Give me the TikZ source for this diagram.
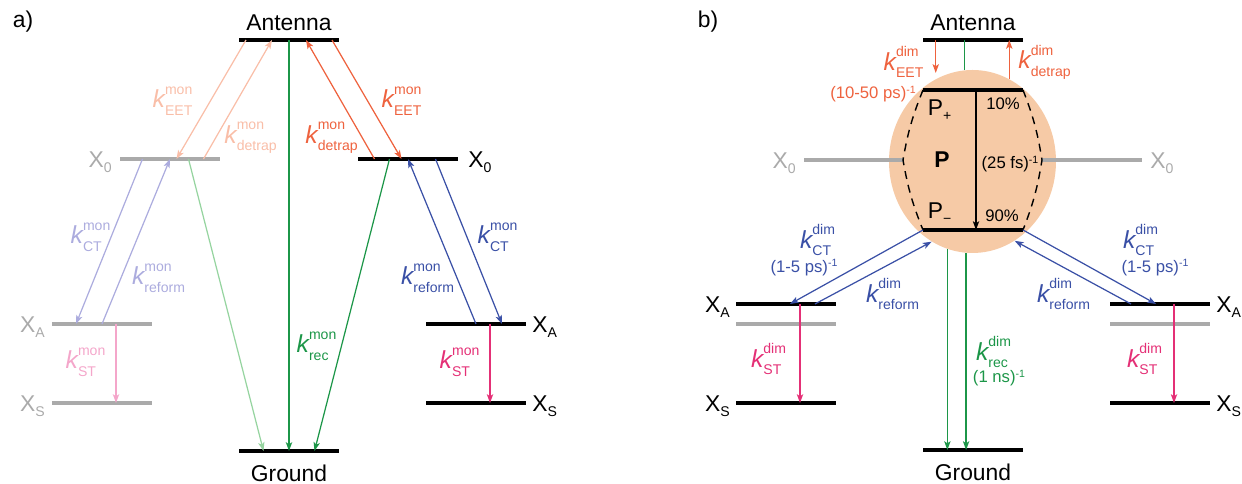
\documentclass[tikz,border=0pt]{standalone}
\usepackage{amsmath}
\usepackage{fontspec}
\setmainfont{Liberation Sans}
\usepackage{xcolor}
\usepackage{tikz}
\usetikzlibrary{arrows.meta,positioning,calc,shapes.geometric}
\definecolor{eetred}{RGB}{238,98,62}
\definecolor{eetpale}{RGB}{249,190,168}
\definecolor{ctblue}{RGB}{58,80,166}
\definecolor{ctpale}{RGB}{172,172,222}
\definecolor{recgreen}{RGB}{28,150,72}
\definecolor{recpale}{RGB}{150,212,160}
\definecolor{stpink}{RGB}{228,48,118}
\definecolor{stpale}{RGB}{244,166,202}
\definecolor{lvlgray}{RGB}{170,170,170}
\definecolor{pcore}{RGB}{246,202,166}
\newcommand{\ratefont}{\fontsize{8}{9}\selectfont}
\newcommand{\krate}[2]{$\textit{k}^{\raisebox{1.5pt}{\ratefont #1}}_{\raisebox{-0.6pt}{\ratefont #2}}$}
\newcommand{\state}[2]{#1$_{\raisebox{-1pt}{\ratefont #2}}$}
\newcommand{\inv}{\raisebox{3.2pt}{\fontsize{6}{7}\selectfont -1}}

\begin{document}
\begin{tikzpicture}[>={Stealth[length=5pt,width=3.6pt,inset=1.2pt]},
  lvl/.style={line width=1.8pt},
  lvlg/.style={lvl,draw=lvlgray},
  rt/.style={->,line width=0.7pt},
  lab/.style={font=\fontsize{13}{15}\selectfont,inner sep=0pt},
  kl/.style={font=\fontsize{14}{16}\selectfont,inner sep=0pt},
  note/.style={font=\fontsize{9.5}{11}\selectfont,inner sep=0pt}]
\useasboundingbox (0,0) rectangle (24.84,9.68);

% ---------- a) monomer ----------
\coordinate (antA) at (5.78,8.88);
\coordinate (gndA) at (5.78,0.66);
\coordinate (xoL) at (3.40,6.50);
\coordinate (xoR) at (8.16,6.50);
\coordinate (xaL) at (2.04,3.20);
\coordinate (xsL) at (2.04,1.62);
\coordinate (xaR) at (9.52,3.20);
\coordinate (xsR) at (9.52,1.62);
\foreach \lv in {antA,gndA,xoR,xaR,xsR}
  \draw[lvl] ([xshift=-1cm]\lv) -- ([xshift=1cm]\lv);
\foreach \lv in {xoL,xaL,xsL}
  \draw[lvlg] ([xshift=-1cm]\lv) -- ([xshift=1cm]\lv);

\node[lab] (tagA) at (0.46,9.24) {a)};
\node[lab] (antAtxt) at ([yshift=0.34cm]antA) {Antenna};
\node[lab] (gndAtxt) at ([yshift=-0.44cm]gndA) {Ground};
\node[lab,text=lvlgray,anchor=base east] (xoLtxt) at ($(xoL)+(-1.14,-0.165)$) {\state{X}{0}};
\node[lab,anchor=base west] (xoRtxt) at ($(xoR)+(1.20,-0.165)$) {\state{X}{0}};
\node[lab,text=lvlgray,anchor=base east] (xaLtxt) at ($(xaL)+(-1.12,-0.165)$) {\state{X}{A}};
\node[lab,text=lvlgray,anchor=base east] (xsLtxt) at ($(xsL)+(-1.12,-0.165)$) {\state{X}{S}};
\node[lab,anchor=base west] (xaRtxt) at ($(xaR)+(1.12,-0.165)$) {\state{X}{A}};
\node[lab,anchor=base west] (xsRtxt) at ($(xsR)+(1.12,-0.165)$) {\state{X}{S}};

% energy transfer / detrapping
\draw[rt,eetred] ([xshift=0.86cm]antA) -- ([xshift=-0.13cm]xoR);
\draw[rt,eetred] ([xshift=-0.67cm]xoR) -- ([xshift=0.34cm]antA);
\draw[rt,eetpale] ([xshift=-0.86cm]antA) -- ([xshift=0.13cm]xoL);
\draw[rt,eetpale] ([xshift=0.67cm]xoL) -- ([xshift=-0.34cm]antA);
% recombination
\draw[rt,recgreen] (antA) -- (gndA);
\draw[rt,recpale] ([xshift=0.37cm]xoL) -- ([xshift=-0.51cm]gndA);
\draw[rt,recgreen] ([xshift=-0.37cm]xoR) -- ([xshift=0.51cm]gndA);
% charge transfer / reformation
\draw[rt,ctblue] ([xshift=0.55cm]xoR) -- ([xshift=0.52cm]xaR);
\draw[rt,ctblue] (xaR) -- (xoR);
\draw[rt,ctpale] ([xshift=-0.55cm]xoL) -- ([xshift=-0.52cm]xaL);
\draw[rt,ctpale] (xaL) -- (xoL);
% stabilisation
\draw[rt,stpink] ([xshift=0.28cm]xaR) -- ([xshift=0.28cm]xsR);
\draw[rt,stpale] ([xshift=0.28cm]xaL) -- ([xshift=0.28cm]xsL);

\node[kl,text=eetred] (kEETa) at (8.04,7.66) {\krate{mon}{EET}};
\node[kl,text=eetred] (kDETa) at (6.64,6.92) {\krate{mon}{detrap}};
\node[kl,text=eetpale] (kEETap) at (3.46,7.66) {\krate{mon}{EET}};
\node[kl,text=eetpale] (kDETap) at (5.02,6.92) {\krate{mon}{detrap}};
\node[kl,text=ctblue] (kCTa) at (9.96,4.94) {\krate{mon}{CT}};
\node[kl,text=ctblue] (kREFa) at (8.56,4.12) {\krate{mon}{reform}};
\node[kl,text=ctpale] (kCTap) at (1.82,4.94) {\krate{mon}{CT}};
\node[kl,text=ctpale] (kREFap) at (3.18,4.12) {\krate{mon}{reform}};
\node[kl,text=stpink] (kSTa) at (9.20,2.44) {\krate{mon}{ST}};
\node[kl,text=stpale] (kSTap) at (1.72,2.44) {\krate{mon}{ST}};
\node[kl,text=recgreen] (kRECa) at (6.34,2.76) {\krate{mon}{rec}};

% ---------- b) dimer ----------
\coordinate (antB) at (19.46,8.88);
\coordinate (gndB) at (19.46,0.68);
\coordinate (ppB) at (19.46,7.88);
\coordinate (pmB) at (19.46,5.08);
\coordinate (xaBL) at (15.72,3.60);
\coordinate (xgBL) at (15.72,3.20);
\coordinate (xsBL) at (15.72,1.62);
\coordinate (xaBR) at (23.20,3.60);
\coordinate (xgBR) at (23.20,3.20);
\coordinate (xsBR) at (23.20,1.62);
\coordinate (xoBL) at (16.08,6.48);
\coordinate (xoBR) at (22.84,6.48);
\coordinate (dmL) at (18.06,6.48);
\coordinate (dmR) at (20.84,6.48);

\node[ellipse,fill=pcore,minimum width=3.34cm,minimum height=3.66cm,inner sep=0pt] (Pcore) at (19.45,6.45) {};
\draw[lvlg] (xoBL) -- (dmL);
\draw[lvlg] (dmR) -- (xoBR);
\draw[dash pattern=on 4.5pt off 3.5pt,line width=0.8pt]
  ([xshift=-1cm]ppB) to[bend right=6] (dmL) to[bend right=6] ([xshift=-1cm]pmB);
\draw[dash pattern=on 4.5pt off 3.5pt,line width=0.8pt]
  ([xshift=1cm]ppB) to[bend left=6] (dmR) to[bend left=6] ([xshift=1cm]pmB);
\foreach \lv in {antB,gndB,ppB,pmB,xaBL,xsBL,xaBR,xsBR}
  \draw[lvl] ([xshift=-1cm]\lv) -- ([xshift=1cm]\lv);
\foreach \lv in {xgBL,xgBR}
  \draw[lvlg] ([xshift=-1cm]\lv) -- ([xshift=1cm]\lv);

\node[lab] (tagB) at (14.16,9.24) {b)};
\node[lab] (antBtxt) at ([yshift=0.34cm]antB) {Antenna};
\node[lab] (gndBtxt) at ([yshift=-0.44cm]gndB) {Ground};
\node[lab,text=lvlgray,anchor=base east] (xoBLtxt) at ($(xoBL)+(-0.14,-0.165)$) {\state{X}{0}};
\node[lab,text=lvlgray,anchor=base west] (xoBRtxt) at ($(xoBR)+(0.16,-0.165)$) {\state{X}{0}};
\node[lab,anchor=base east] (xaBLtxt) at ($(xaBL)+(-1.10,-0.165)$) {\state{X}{A}};
\node[lab,anchor=base east] (xsBLtxt) at ($(xsBL)+(-1.10,-0.165)$) {\state{X}{S}};
\node[lab,anchor=base west] (xaBRtxt) at ($(xaBR)+(1.12,-0.165)$) {\state{X}{A}};
\node[lab,anchor=base west] (xsBRtxt) at ($(xsBR)+(1.12,-0.165)$) {\state{X}{S}};

% special pair
\draw[recgreen,line width=0.7pt] (Pcore.95 |- antB) -- (Pcore.95);
\draw[rt,eetred] (Pcore.114 |- antB) -- ([yshift=0.12cm]Pcore.114);
\draw[rt,eetred] (Pcore.66) -- (Pcore.66 |- antB);
\draw[rt] ([xshift=0.06cm]ppB) -- ([xshift=0.06cm]pmB);
\node[lab] (Pplus) at (18.80,7.48) {\state{P}{+}};
\node[lab,font=\fontsize{13}{15}\selectfont\bfseries] (Pmid) at (18.84,6.49) {P};
\node[lab] (Pminus) at (18.80,5.42) {\state{P}{−}};
\node[note] (pc10) at (20.06,7.60) {10\%};
\node[note] (tPb) at (20.20,6.40) {(25 fs)\inv};
\node[note] (pc90) at (20.04,5.36) {90\%};

% charge transfer, recombination, stabilisation
\draw[rt,ctblue] ([xshift=-1cm]pmB) -- ([xshift=0.08cm]xaBL);
\draw[rt,ctblue] ([xshift=0.58cm]xaBL) -- (Pcore.-117);
\draw[rt,ctblue] ([xshift=1cm]pmB) -- ([xshift=-0.08cm]xaBR);
\draw[rt,ctblue] ([xshift=-0.58cm]xaBR) -- (Pcore.-62);
\draw[rt,recgreen] (Pcore.-106) -- (Pcore.-106 |- gndB);
\draw[rt,recgreen] (Pcore.-94) -- (Pcore.-94 |- gndB);
\draw[rt,stpink] ([xshift=0.28cm]xaBL) -- ([xshift=0.28cm]xsBL);
\draw[rt,stpink] ([xshift=0.28cm]xaBR) -- ([xshift=0.28cm]xsBR);

\node[kl,text=eetred] (kEETb) at (18.08,8.44) {\krate{dim}{EET}};
\node[note,text=eetred] (tEETb) at (17.46,7.80) {(10-50 ps)\inv};
\node[kl,text=eetred] (kDETb) at (20.90,8.44) {\krate{dim}{detrap}};
\node[kl,text=ctblue] (kCTbl) at (16.36,4.88) {\krate{dim}{CT}};
\node[note,text=ctblue] (tCTbl) at (16.08,4.33) {(1-5 ps)\inv};
\node[kl,text=ctblue] (kREFbl) at (17.86,3.80) {\krate{dim}{reform}};
\node[kl,text=ctblue] (kCTbr) at (22.82,4.88) {\krate{dim}{CT}};
\node[note,text=ctblue] (tCTbr) at (23.10,4.33) {(1-5 ps)\inv};
\node[kl,text=ctblue] (kREFbr) at (21.28,3.80) {\krate{dim}{reform}};
\node[kl,text=stpink] (kSTbl) at (15.38,2.50) {\krate{dim}{ST}};
\node[kl,text=stpink] (kSTbr) at (22.90,2.50) {\krate{dim}{ST}};
\node[kl,text=recgreen] (kRECb) at (19.88,2.64) {\krate{dim}{rec}};
\node[note,text=recgreen] (tRECb) at (19.98,2.12) {(1 ns)\inv};
\end{tikzpicture}
\end{document}
